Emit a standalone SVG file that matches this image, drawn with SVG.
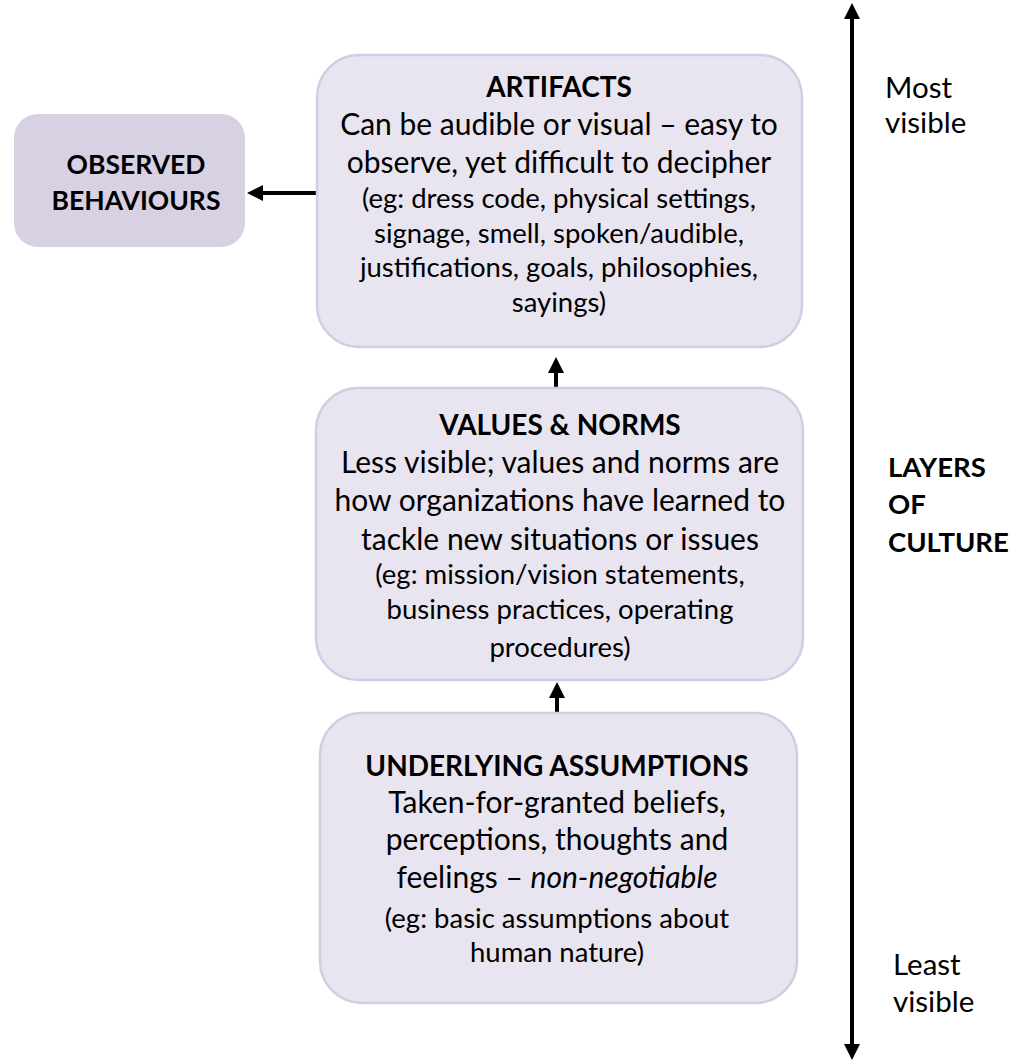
<svg xmlns="http://www.w3.org/2000/svg" width="1011" height="1063" viewBox="0 0 1011 1063">
  <style>
    .box { fill: #e9e5f0; stroke: #d3cce2; stroke-width: 2.5; }
    .obs { fill: #d8d0e3; stroke: none; }
    text { font-family: Lato, "Open Sans", "Liberation Sans", sans-serif; fill: #000; text-anchor: middle; }
    .title { font-size: 28px; font-weight: bold; }
    .obst { font-size: 26.5px; font-weight: bold; }
    .main { font-size: 30px; }
    .small { font-size: 27.5px; }
    .side { font-size: 29.5px; text-anchor: start; }
    .sideb { font-size: 27.5px; font-weight: bold; text-anchor: start; }
    .conn { stroke: #000; stroke-width: 4; fill: none; }
    .axis { stroke: #000; stroke-width: 4; fill: none; }
  </style>
  <defs>
    <marker id="arrow" markerUnits="userSpaceOnUse" markerWidth="16" markerHeight="16" refX="1" refY="8" orient="auto">
      <path d="M0,0 L16,8 L0,16 z" fill="#000"/>
    </marker>
    <marker id="axisHead" markerUnits="userSpaceOnUse" markerWidth="16" markerHeight="16" refX="1" refY="8" orient="auto-start-reverse">
      <path d="M0,0 L16,8 L0,16 z" fill="#000"/>
    </marker>
  </defs>

  <g id="connectors">
    <line class="conn" x1="317" y1="193" x2="262" y2="193" marker-end="url(#arrow)"/>
    <line class="conn" x1="556" y1="388" x2="556" y2="372" marker-end="url(#arrow)"/>
    <line class="conn" x1="557" y1="713" x2="557" y2="697" marker-end="url(#arrow)"/>
    <line class="axis" x1="852" y1="18" x2="852" y2="1045" marker-start="url(#axisHead)" marker-end="url(#axisHead)"/>
  </g>

  <g id="observed-behaviours">
    <rect class="obs" x="14" y="114" width="231" height="133" rx="24"/>
    <text class="obst" x="136" y="174">OBSERVED</text>
    <text class="obst" x="136" y="210">BEHAVIOURS</text>
  </g>

  <g id="artifacts">
    <rect class="box" x="317" y="55" width="485" height="292" rx="42"/>
    <text class="title" x="559" y="97">ARTIFACTS</text>
    <text class="main" x="559" y="135">Can be audible or visual – easy to</text>
    <text class="main" x="559" y="173">observe, yet difficult to decipher</text>
    <text class="small" x="559" y="208">(eg: dress code, physical settings,</text>
    <text class="small" x="559" y="243">signage, smell, spoken/audible,</text>
    <text class="small" x="559" y="277">justifications, goals, philosophies,</text>
    <text class="small" x="559" y="312">sayings)</text>
  </g>

  <g id="values-norms">
    <rect class="box" x="316" y="388" width="487" height="292" rx="42"/>
    <text class="title" x="560" y="435">VALUES &amp; NORMS</text>
    <text class="main" x="560" y="473">Less visible; values and norms are</text>
    <text class="main" x="560" y="511">how organizations have learned to</text>
    <text class="main" x="560" y="550">tackle new situations or issues</text>
    <text class="small" x="560" y="584">(eg: mission/vision statements,</text>
    <text class="small" x="560" y="619">business practices, operating</text>
    <text class="small" x="560" y="657">procedures)</text>
  </g>

  <g id="underlying-assumptions">
    <rect class="box" x="320" y="713" width="477" height="290" rx="42"/>
    <text class="title" x="557" y="776">UNDERLYING ASSUMPTIONS</text>
    <text class="main" x="557" y="813">Taken-for-granted beliefs,</text>
    <text class="main" x="557" y="850">perceptions, thoughts and</text>
    <text class="main" x="557" y="888">feelings – <tspan font-style="italic">non-negotiable</tspan></text>
    <text class="small" x="557" y="928">(eg: basic assumptions about</text>
    <text class="small" x="557" y="962">human nature)</text>
  </g>

  <g id="axis-labels">
    <text class="side" x="885" y="98">Most</text>
    <text class="side" x="885" y="133">visible</text>
    <text class="sideb" x="888" y="477">LAYERS</text>
    <text class="sideb" x="888" y="514">OF</text>
    <text class="sideb" x="888" y="552">CULTURE</text>
    <text class="side" x="893" y="975">Least</text>
    <text class="side" x="893" y="1012">visible</text>
  </g>
</svg>
